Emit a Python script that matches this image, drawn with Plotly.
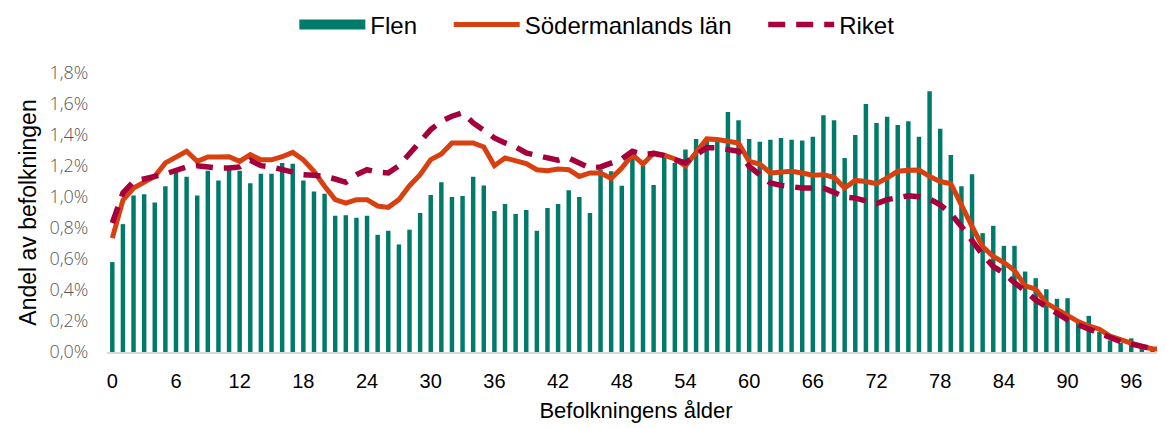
import plotly.graph_objects as go

ages = list(range(100))

flen = [0.58, 0.825, 1.01, 1.017, 0.965, 1.07, 1.176, 1.13, 1.01, 1.17,
        1.107, 1.183, 1.17, 1.088, 1.15, 1.15, 1.22, 1.215, 1.107, 1.036,
        1.021, 0.879, 0.883, 0.866, 0.879, 0.756, 0.782, 0.694, 0.789, 0.896,
        1.013, 1.095, 1.0, 1.006, 1.131, 1.075, 0.909, 0.955, 0.89, 0.916,
        0.782, 0.929, 0.955, 1.043, 1.0, 0.896, 1.176, 1.166, 1.073, 1.25,
        1.2, 1.077, 1.26, 1.22, 1.306, 1.375, 1.38, 1.36, 1.549, 1.495,
        1.375, 1.357, 1.37, 1.381, 1.37, 1.364, 1.388, 1.528, 1.495, 1.252,
        1.40, 1.60, 1.478, 1.517, 1.465, 1.489, 1.388, 1.683, 1.44, 1.271,
        1.069, 1.146, 0.767, 0.814, 0.685, 0.685, 0.519, 0.476, 0.405, 0.343,
        0.347, 0.2, 0.233, 0.13, 0.075, 0.06, 0.088, 0.04, 0.02, 0.01]

sodermanland = [0.735, 0.98, 1.058, 1.10, 1.133, 1.22, 1.258, 1.295, 1.23, 1.258,
                1.258, 1.26, 1.23, 1.273, 1.24, 1.24, 1.26, 1.288, 1.24, 1.166,
                1.069, 0.983, 0.961, 0.983, 0.983, 0.942, 0.933, 0.983, 1.073, 1.144,
                1.241, 1.278, 1.349, 1.349, 1.349, 1.323, 1.202, 1.252, 1.235, 1.215,
                1.176, 1.17, 1.181, 1.176, 1.133, 1.155, 1.155, 1.12, 1.187, 1.273,
                1.212, 1.284, 1.27, 1.245, 1.2, 1.29, 1.375, 1.371, 1.364, 1.349,
                1.23, 1.213, 1.155, 1.16, 1.166, 1.155, 1.14, 1.144, 1.127, 1.058,
                1.107, 1.10, 1.086, 1.123, 1.166, 1.173, 1.174, 1.133, 1.10, 1.086,
                0.94, 0.81, 0.68, 0.616, 0.577, 0.526, 0.427, 0.405, 0.315, 0.276,
                0.233, 0.196, 0.168, 0.147, 0.103, 0.078, 0.056, 0.034, 0.021, 0.017]

riket = [0.832, 1.026, 1.10, 1.112, 1.133, 1.149, 1.172, 1.194, 1.202, 1.194,
         1.187, 1.187, 1.194, 1.237, 1.202, 1.194, 1.176, 1.159, 1.144, 1.14,
         1.133, 1.116, 1.095, 1.144, 1.176, 1.16, 1.155, 1.202, 1.284, 1.36,
         1.435, 1.489, 1.521, 1.543, 1.478, 1.431, 1.381, 1.349, 1.323, 1.284,
         1.267, 1.252, 1.237, 1.252, 1.22, 1.187, 1.194, 1.215, 1.245, 1.295,
         1.275, 1.28, 1.267, 1.241, 1.22, 1.273, 1.317, 1.317, 1.31, 1.295,
         1.198, 1.144, 1.09, 1.075, 1.062, 1.058, 1.058, 1.058, 1.03, 1.0,
         0.993, 0.972, 0.957, 0.983, 1.0, 1.008, 1.002, 0.987, 0.95, 0.892,
         0.81, 0.713, 0.627, 0.551, 0.509, 0.448, 0.39, 0.336, 0.293, 0.25,
         0.207, 0.175, 0.147, 0.121, 0.095, 0.067, 0.052, 0.034, 0.021, 0.017]

x_tick_vals = list(range(0, 100, 6))
y_tick_vals = [0.0, 0.2, 0.4, 0.6, 0.8, 1.0, 1.2, 1.4, 1.6, 1.8]
y_tick_text = ["0,0%", "0,2%", "0,4%", "0,6%", "0,8%", "1,0%", "1,2%", "1,4%", "1,6%", "1,8%"]

TEAL = "#007A6B"
ORANGE = "#D9400F"
CRIMSON = "#A6003C"
FONT = "Liberation Sans, Arial, sans-serif"
PAD = "\u00a0" * 4  # spacing between legend entries

fig = go.Figure()
fig.add_trace(go.Bar(x=ages, y=flen, name="Flen", width=0.42, legendgroup="flen",
                     showlegend=False,
                     marker=dict(color=TEAL, line=dict(width=0))))
# legend-only entry giving Flen the wide rectangular swatch of the reference
fig.add_trace(go.Scatter(x=[None], y=[None], name="Flen" + PAD, mode="lines", legendgroup="flen",
                         line=dict(color=TEAL, width=14), hoverinfo="skip"))
fig.add_trace(go.Scatter(x=ages, y=sodermanland, name="Södermanlands län" + PAD, mode="lines",
                         line=dict(color=ORANGE, width=5)))
fig.add_trace(go.Scatter(x=ages, y=riket, name="Riket", mode="lines",
                         line=dict(color=CRIMSON, width=5.5, dash="17px,11px")))

# page body adds an 8px offset, so the figure is sized to fit the 1165x428 window
fig.update_layout(
    width=1157, height=420,
    margin=dict(l=99, r=0, t=65, b=76, autoexpand=False),
    paper_bgcolor="white", plot_bgcolor="white",
    showlegend=True,
    legend=dict(orientation="h", x=0.463, xanchor="center", y=1.172, yanchor="middle",
                font=dict(family=FONT, size=24, color="#000000"),
                traceorder="normal", itemwidth=66),
)
fig.update_xaxes(
    range=[-0.5, 99.18], tickvals=x_tick_vals, ticktext=[str(v) for v in x_tick_vals],
    showgrid=False, zeroline=False, showline=True, linecolor="#D9D9D9", linewidth=1.5,
    ticks="outside", ticklen=10, tickcolor="rgba(0,0,0,0)",
    tickfont=dict(family=FONT, size=20, color="#000000"),
    title=dict(text="Befolkningens ålder", font=dict(family=FONT, size=22, color="#000000"), standoff=12),
)
fig.update_yaxes(
    range=[0, 1.8], tickvals=y_tick_vals, ticktext=y_tick_text,
    showgrid=False, zeroline=False, showline=False,
    ticks="outside", ticklen=14, tickcolor="rgba(0,0,0,0)",
    tickfont=dict(family="Open Sans, sans-serif", size=18, color="#595959", weight=300),
    title=dict(text="Andel av befolkningen", font=dict(family=FONT, size=23, color="#000000"), standoff=6),
)

fig.write_html("out.html")
